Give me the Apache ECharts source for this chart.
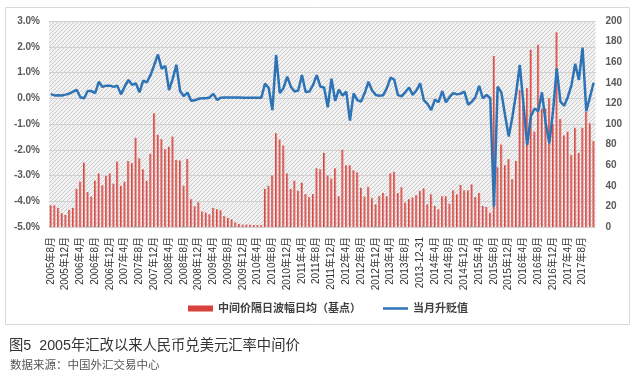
<!DOCTYPE html>
<html><head><meta charset="utf-8">
<script src="https://cdn.jsdelivr.net/npm/echarts@6/dist/echarts.min.js"></script>
<style>html,body{margin:0;padding:0;background:#fff}#c{width:635px;height:370px}</style>
</head><body><div id="c"></div>
<script>
const categories = [
'2005年8月','2005年9月','2005年10月','2005年11月','2005年12月',
'2006年1月','2006年2月','2006年3月','2006年4月','2006年5月','2006年6月','2006年7月','2006年8月','2006年9月','2006年10月','2006年11月','2006年12月',
'2007年1月','2007年2月','2007年3月','2007年4月','2007年5月','2007年6月','2007年7月','2007年8月','2007年9月','2007年10月','2007年11月','2007年12月',
'2008年1月','2008年2月','2008年3月','2008年4月','2008年5月','2008年6月','2008年7月','2008年8月','2008年9月','2008年10月','2008年11月','2008年12月',
'2009年1月','2009年2月','2009年3月','2009年4月','2009年5月','2009年6月','2009年7月','2009年8月','2009年9月','2009年10月','2009年11月','2009年12月',
'2010年1月','2010年2月','2010年3月','2010年4月','2010年5月','2010年6月','2010年7月','2010年8月','2010年9月','2010年10月','2010年11月','2010年12月',
'2011年1月','2011年2月','2011年3月','2011年4月','2011年5月','2011年6月','2011年7月','2011年8月','2011年9月','2011年10月','2011年11月','2011年12月',
'2012年1月','2012年2月','2012年3月','2012年4月','2012年5月','2012年6月','2012年7月','2012年8月','2012年9月','2012年10月','2012年11月','2012年12月',
'2013年1月','2013年2月','2013年3月','2013年4月','2013年5月','2013年6月','2013年7月','2013年8月','2013年9月','2013年10月','2013年11月','2013-12-31',
'2014年1月','2014年2月','2014年3月','2014年4月','2014年5月','2014年6月','2014年7月','2014年8月','2014年9月','2014年10月','2014年11月','2014年12月',
'2015年1月','2015年2月','2015年3月','2015年4月','2015年5月','2015年6月','2015年7月','2015年8月','2015年9月','2015年10月','2015年11月','2015年12月',
'2016年1月','2016年2月','2016年3月','2016年4月','2016年5月','2016年6月','2016年7月','2016年8月','2016年9月','2016年10月','2016年11月','2016年12月',
'2017年1月','2017年2月','2017年3月','2017年4月','2017年5月','2017年6月','2017年7月','2017年8月','2017年9月','2017年10月','2017年11月'
];

// 中间价隔日波幅日均（基点）- right axis
const volatility = [21,21,18.5,13.5,11.7,16.5,18.5,37,44,62.5,
34,29.5,45,52,40.5,49.5,52,42,63.5,40,
44,64,62,86.5,66.7,56,45,71,110.5,89.5,
85.2,75.5,78,87.7,65,64.5,40,66,27,20,
24,15,14,12.3,18.5,17.3,16.3,10.5,8.8,7.5,
4.5,3,2.3,2.3,2.2,1.9,1.9,1.7,37,40,
50,91,85,79,52,37,45,35,43,32,
29,32,57,56,72,50,47,57,30,75,
60,60,55,53,38,29.5,39,28,22,30,
33,30,52,53.5,33,38.5,23.7,27,28.6,31,
35,37.5,22,31.7,20.4,17.2,29.8,29.8,22.6,35.6,
31.7,40.8,35.6,35.6,41.4,29.1,33,20.4,19.4,13.9,
166,58,80,60,66,46.6,64,133,118,135,
172,92.6,177,115,115,125,100,189,105,89,
92.6,70,96.4,72,96.4,112,100.6,83.5];

// 当月升贬值 (%) - left axis
const monthlyChange = [0.16,0.11,0.12,0.11,0.14,0.18,0.26,0.33,0.04,0.0,
0.28,0.28,0.20,0.64,0.44,0.49,0.49,0.44,0.49,0.15,
0.45,0.71,0.52,0.58,0.23,0.68,0.62,0.90,1.29,1.70,
1.15,1.25,0.32,0.75,1.30,0.28,0.08,0.22,-0.10,-0.08,
-0.02,0.0,0.0,0.03,0.17,-0.06,0.02,0.03,0.03,0.03,
0.03,0.03,0.02,0.02,0.02,0.02,0.02,0.02,0.57,0.40,
-0.46,1.68,0.20,0.39,0.84,0.45,0.26,0.30,0.90,0.24,
0.26,0.51,0.90,0.45,0.42,-0.35,0.76,-0.10,0.33,0.10,
0.26,-0.87,0.19,-0.07,-0.13,0.20,0.64,0.30,0.13,0.10,
0.12,0.39,0.80,0.72,0.12,0.08,0.24,0.42,0.13,0.30,
0.58,-0.07,-0.22,-0.46,-0.06,-0.15,0.28,-0.16,0.05,0.20,
0.15,0.18,0.26,-0.25,-0.13,0.05,0.48,0.0,0.13,0.0,
-4.21,0.45,0.23,-0.65,-1.49,-0.72,0.20,1.29,-0.25,-1.82,
-0.70,-0.40,-0.50,0.23,-0.95,-1.75,-0.50,1.16,-0.13,-0.29,
0.05,0.51,1.34,0.71,1.97,-0.50,0.05,0.60];

const leftAxisRange = [-5, 3];
const rightAxisRange = [0, 200];
const seriesNames = ['中间价隔日波幅日均（基点）', '当月升贬值'];
const titleText = '图5  2005年汇改以来人民币兑美元汇率中间价';
const sourceText = '数据来源：中国外汇交易中心';

// hatch pattern for plot background
const tile = document.createElement('canvas');
tile.width = 4; tile.height = 4;
const tc = tile.getContext('2d');
tc.fillStyle = '#f2f2f2'; tc.fillRect(0,0,4,4);
tc.strokeStyle = '#cccccc'; tc.lineWidth = 1;
tc.beginPath();
tc.moveTo(0,4); tc.lineTo(4,0);
tc.moveTo(-1,1); tc.lineTo(1,-1);
tc.moveTo(3,5); tc.lineTo(5,3);
tc.stroke();

const FONT = "'Liberation Sans','Noto Sans CJK SC',sans-serif";
const chart = echarts.init(document.getElementById('c'), null, {renderer:'canvas'});
chart.setOption({
  animation: false,
  backgroundColor: '#ffffff',
  textStyle: {fontFamily: FONT},
  graphic: [{type:'rect', shape:{x:5.5,y:7.5,width:624,height:317}, style:{fill:'none', stroke:'#d9d9d9', lineWidth:1}, silent:true, z:-1}],
  title: [
    {text: titleText, left: 4, top: 334, textStyle:{fontSize:14.3, fontWeight:'normal', color:'#333', fontFamily:FONT}},
    {text: sourceText, left: 5, top: 355, textStyle:{fontSize:11.5, fontWeight:'normal', color:'#555', fontFamily:FONT}}
  ],
  legend: {
    left: 183, top: 298, itemGap: 22, itemWidth: 25, itemHeight: 6,
    textStyle: {fontSize: 11, fontWeight: 'bold', color: '#404040', fontFamily: FONT},
    data: [
      {name: seriesNames[0], icon: 'rect', itemStyle: {color: '#d9413c'}},
      {name: seriesNames[1], icon: 'path://M0,0L25,0L25,2.5L0,2.5Z', itemStyle: {color: '#2e73b5'}}
    ]
  },
  grid: {left: 49, right: 39.5, top: 21, height: 206, show: true, borderWidth: 0,
         backgroundColor: {image: tile, repeat: 'repeat'}},
  xAxis: {
    type: 'category', data: categories, boundaryGap: true,
    axisLine: {show: false}, axisTick: {show: false},
    axisLabel: {interval: 3, rotate: 90, margin: 10, fontSize: 10, fontWeight: 'normal', color: '#333', fontFamily: FONT}
  },
  yAxis: [
    {type: 'value', min: leftAxisRange[0], max: leftAxisRange[1], interval: 1,
     axisLine: {show:false}, axisTick: {show:false},
     splitLine: {show: true, lineStyle: {color: '#d0d0d0', width: 1}},
     axisLabel: {formatter: v => v.toFixed(1) + '%', fontSize: 10, fontWeight: 'bold', color: '#595959', margin: 9, fontFamily: FONT}},
    {type: 'value', min: rightAxisRange[0], max: rightAxisRange[1], interval: 20,
     axisLine: {show:false}, axisTick: {show:false}, splitLine: {show:false},
     axisLabel: {fontSize: 10, fontWeight: 'bold', color: '#595959', margin: 10, fontFamily: FONT}}
  ],
  series: [
    {name: seriesNames[0], type: 'bar', yAxisIndex: 1, data: volatility, barCategoryGap: '42%',
     itemStyle: {color: {type:'linear', x:0, y:0, x2:1, y2:0, colorStops:[{offset:0,color:'#c8302b'},{offset:1,color:'#f0a09c'}]}}},
    {name: seriesNames[1], type: 'line', yAxisIndex: 0, data: monthlyChange, symbol: 'none', z: 5,
     lineStyle: {color: '#2e73b5', width: 2.5}, itemStyle: {color: '#2e73b5'}}
  ]
});
</script></body></html>
